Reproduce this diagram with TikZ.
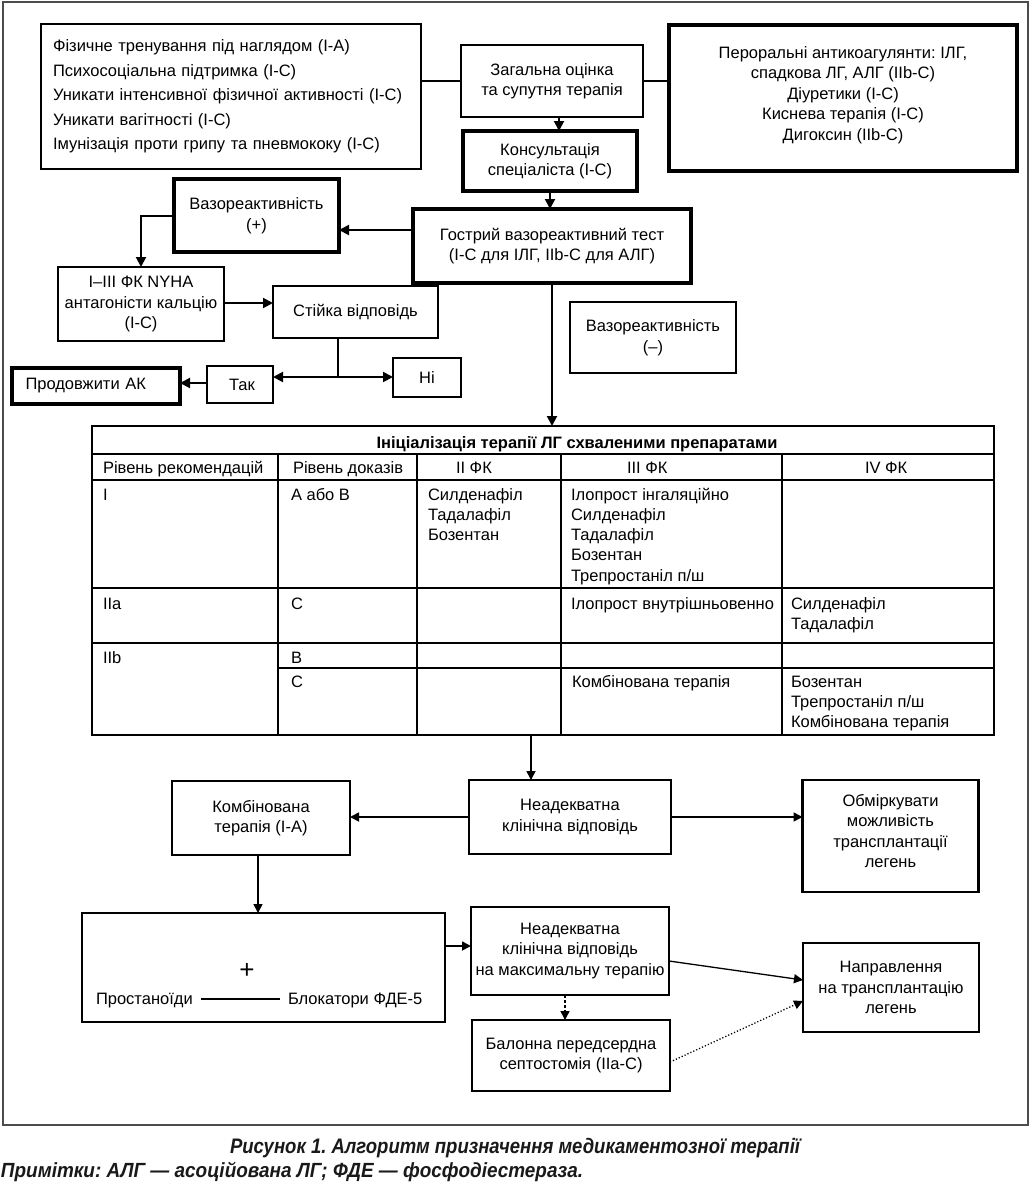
\documentclass[tikz,border=0pt]{standalone}
\usepackage{graphicx}
\usepackage{fontspec}
\setmainfont{Liberation Sans}
\usetikzlibrary{arrows.meta}
\frenchspacing
\newcommand\mf{\fontsize{16.5}{20.5}\selectfont}
\newcommand\tf{\fontsize{16.5}{20.3}\selectfont}
\begin{document}
\begin{tikzpicture}[x=1pt,y=-1pt,
  every node/.style={inner sep=0pt, outer sep=0pt},
  box/.style={draw, rectangle, align=center, font=\mf, inner sep=0pt},
  thinb/.style={box, line width=1.8pt},
  thickb/.style={box, line width=3.2pt},
  midb/.style={box, line width=2.8pt},
  arr/.style={line width=2pt, -{Triangle[length=10pt,width=10pt]}},
  arrl/.style={line width=1.7pt, -{Triangle[length=9pt,width=9pt]}},
  cell/.style={anchor=base west, font=\tf},
  tline/.style={line width=1.6pt},
  tthick/.style={line width=2.8pt},
]
\useasboundingbox (0,0) rectangle (1031,1184);
% outer frame
\draw[line width=1.2pt, black!70] (3,2) rectangle (1028,1125);

% ---------- top part ----------
\node[thinb, minimum width=380pt, minimum height=145pt, text width=356pt, align=left,
      font=\fontsize{16.5}{24.5}\selectfont] (A) at (231,96.5)
 {Фізичне тренування під наглядом (I-A)\\
  Психосоціальна підтримка (I-C)\\
  Уникати інтенсивної фізичної активності (I-C)\\
  Уникати вагітності (I-C)\\
  Імунізація проти грипу та пневмококу (I-C)};
\node[thinb, minimum width=182pt, minimum height=72pt] (zag) at (552,81)
 {Загальна оцінка\\та супутня терапія};
\node[thickb, minimum width=348pt, minimum height=146pt] (rb) at (843,98)
 {\raisebox{3pt}[\height][\depth]{\begin{tabular}{@{}c@{}}Пероральні антикоагулянти: ІЛГ,\\спадкова ЛГ, АЛГ (IIb-C)\\Діуретики (I-C)\\Киснева терапія (I-C)\\Дигоксин (IIb-C)\end{tabular}}};
\node[thickb, minimum width=174pt, minimum height=60pt] (kons) at (550,161)
 {Консультація\\спеціаліста (I-C)};
\node[thickb, minimum width=165pt, minimum height=73pt] (vplus) at (256.5,215.5)
 {Вазореактивність\\(+)};
\node[thickb, minimum width=278pt, minimum height=74pt] (gost) at (552,246)
 {Гострий вазореактивний тест\\(I-C для ІЛГ, IIb-C для АЛГ)};
\node[thinb, minimum width=166pt, minimum height=74pt] (nyha) at (141,304)
 {I–III ФК NYHA\\антагоністи кальцію\\(I-C)};
\node[thinb, minimum width=165pt, minimum height=52pt] (st) at (355.5,312)
 {Стійка відповідь};
\node[thinb, minimum width=68pt, minimum height=39pt] (ni) at (427,377.5) {Ні};
\node[thinb, minimum width=66pt, minimum height=37pt] (tak) at (240,384.5) {\hspace*{4pt}Так};
\node[thickb, minimum width=168pt, minimum height=36pt, text width=141pt, align=left] (prod) at (96,386)
 {Продовжити АК};
\node[thinb, minimum width=166pt, minimum height=71pt] (vmin) at (653,337.5)
 {Вазореактивність\\(–)};

% connectors top
\draw[line width=2pt] (zag.west) -- (zag.west -| A.east);
\draw[line width=2pt] (zag.east) -- (zag.east -| rb.west);
\draw[arr] (zag.south -| 559,0) -- (kons.north -| 559,0);
\draw[arr] (kons.south) -- (kons.south |- gost.north);
\draw[arr] (gost.west |- 0,230) -- (vplus.east |- 0,230);
\draw[arr] (vplus.west) -| (nyha.north);
\draw[arr] (nyha.east |- 0,303) -- (st.west |- 0,303);
\coordinate (br) at (338,377);
\draw[line width=2pt] (st.south -| br) -- (br);
\draw[arr] (br) -- (br -| tak.east);
\draw[arr] (br) -- (br -| ni.west);
\draw[arr] (tak.west |- 0,383) -- (prod.east |- 0,383);

% ---------- table ----------
\node[draw, tline, minimum width=902pt, minimum height=309pt] (tbl) at (543,580.5) {};
\draw[arr] (gost.south) -- (gost.south |- tbl.north);
\draw[tline] (tbl.west |- 0,454) -- (tbl.east |- 0,454);
\draw[tline] (tbl.west |- 0,480) -- (tbl.east |- 0,480);
\draw[tline] (tbl.west |- 0,588) -- (tbl.east |- 0,588);
\draw[tthick] (tbl.west |- 0,643) -- (tbl.east |- 0,643);
\draw[tthick] (278,668) -- (tbl.east |- 0,668);
\foreach \x in {278,417,561,782} \draw[tline] (\x,454) -- (\x,735);

\node[anchor=base, font=\bfseries\fontsize{16.5}{18}\selectfont] (title) at (577,448)
 {Ініціалізація терапії ЛГ схваленими препаратами};
\node[cell] (h1) at (103,473) {Рівень рекомендацій};
\node[cell] (h2) at (293,473) {Рівень доказів};
\node[cell] (h3) at (456,473) {II ФК};
\node[cell] (h4) at (627,473) {III ФК};
\node[cell] (h5) at (865,473) {IV ФК};

\node[cell] (r1a) at (103,500) {I};
\node[cell] (r1b) at (291,500) {А або В};
\node[cell] (r1c) at (428,500) {\begin{tabular}[t]{@{}l@{}}Силденафіл\\Тадалафіл\\Бозентан\end{tabular}};
\node[cell] (r1d) at (571,500) {\begin{tabular}[t]{@{}l@{}}Ілопрост інгаляційно\\Силденафіл\\Тадалафіл\\Бозентан\\Трепростаніл п/ш\end{tabular}};

\node[cell] (r2a) at (103,609) {IIa};
\node[cell] (r2b) at (291,609) {С};
\node[cell] (r2d) at (571,609) {Ілопрост внутрішньовенно};
\node[cell] (r2e) at (791,609) {\begin{tabular}[t]{@{}l@{}}Силденафіл\\Тадалафіл\end{tabular}};

\node[cell] (r3a) at (103,663) {IIb};
\node[cell] (r3b) at (291,663) {В};
\node[cell] (r4b) at (291,687) {С};
\node[cell] (r4d) at (572,687) {Комбінована терапія};
\node[cell] (r4e) at (791,687) {\begin{tabular}[t]{@{}l@{}}Бозентан\\Трепростаніл п/ш\\Комбінована терапія\end{tabular}};

% ---------- bottom part ----------
\node[midb, minimum width=202pt, minimum height=74pt] (ned) at (570,817)
 {Неадекватна\\клінічна відповідь};
\node[midb, minimum width=178pt, minimum height=74pt] (komb) at (261,818)
 {Комбінована\\терапія (I-A)};
\node[midb, minimum width=176pt, minimum height=112pt] (obm) at (890.5,836)
 {\raisebox{3pt}[\height][\depth]{\begin{tabular}{@{}c@{}}Обміркувати\\можливість\\трансплантації\\легень\end{tabular}}};
\node[draw, line width=2.7pt, minimum width=363pt, minimum height=109pt] (big) at (263.5,967.5) {};
\node[midb, minimum width=198pt, minimum height=88pt] (ned2) at (570,951)
 {Неадекватна\\клінічна відповідь\\на максимальну терапію};
\node[midb, minimum width=198pt, minimum height=71pt] (bal) at (571,1055.5)
 {Балонна передсердна\\септостомія (IIa-C)};
\node[midb, minimum width=176pt, minimum height=89pt] (napr) at (891,987.5)
 {Направлення\\на трансплантацію\\легень};

\node[font=\fontsize{26}{26}\selectfont] (plus) at (247,971) {+};
\node[anchor=base west, font=\mf, inner xsep=8pt] (pros) at (88,1004) {Простаноїди};
\node[anchor=base west, font=\mf, inner xsep=8pt] (blok) at (280,1004) {Блокатори ФДЕ-5};
\draw[line width=1.3pt] (pros.east |- 0,999) -- (blok.west |- 0,999);

\draw[arrl] (tbl.south -| 531,0) -- (ned.north -| 531,0);
\draw[arrl] (ned.west) -- (ned.west -| komb.east);
\draw[arrl] (ned.east) -- (ned.east -| obm.west);
\draw[arrl] (komb.south -| 258,0) -- (big.north -| 258,0);
\draw[arrl] (big.east |- 0,946) -- (ned2.west |- 0,946);
\draw[line width=1.3pt, -{Triangle[length=9pt,width=9pt]}] (ned2.east |- 0,961) -- (napr.west |- 0,980);
\draw[line width=1.5pt, dash pattern=on 3pt off 2pt, -{Triangle[length=9pt,width=9pt]}] (ned2.south -| 565,0) -- (bal.north -| 565,0);
\draw[line width=1.3pt, dash pattern=on 1.2pt off 2pt, -{Triangle[length=9pt,width=9pt]}] (bal.east |- 0,1062) -- (napr.west |- 0,1001);

% ---------- caption ----------
\node[anchor=base west, text=black!90] (cap) at (230,1153)
 {\resizebox{570pt}{\height}{\fontsize{21}{24}\selectfont\bfseries\itshape Рисунок 1. Алгоритм призначення медикаментозної терапії}};
\node[anchor=base west, text=black!90] (note) at (1,1177)
 {\resizebox{582pt}{\height}{\fontsize{20.5}{24}\selectfont\bfseries\itshape Примітки: АЛГ — асоційована ЛГ; ФДЕ — фосфодіестераза.}};
\end{tikzpicture}
\end{document}
